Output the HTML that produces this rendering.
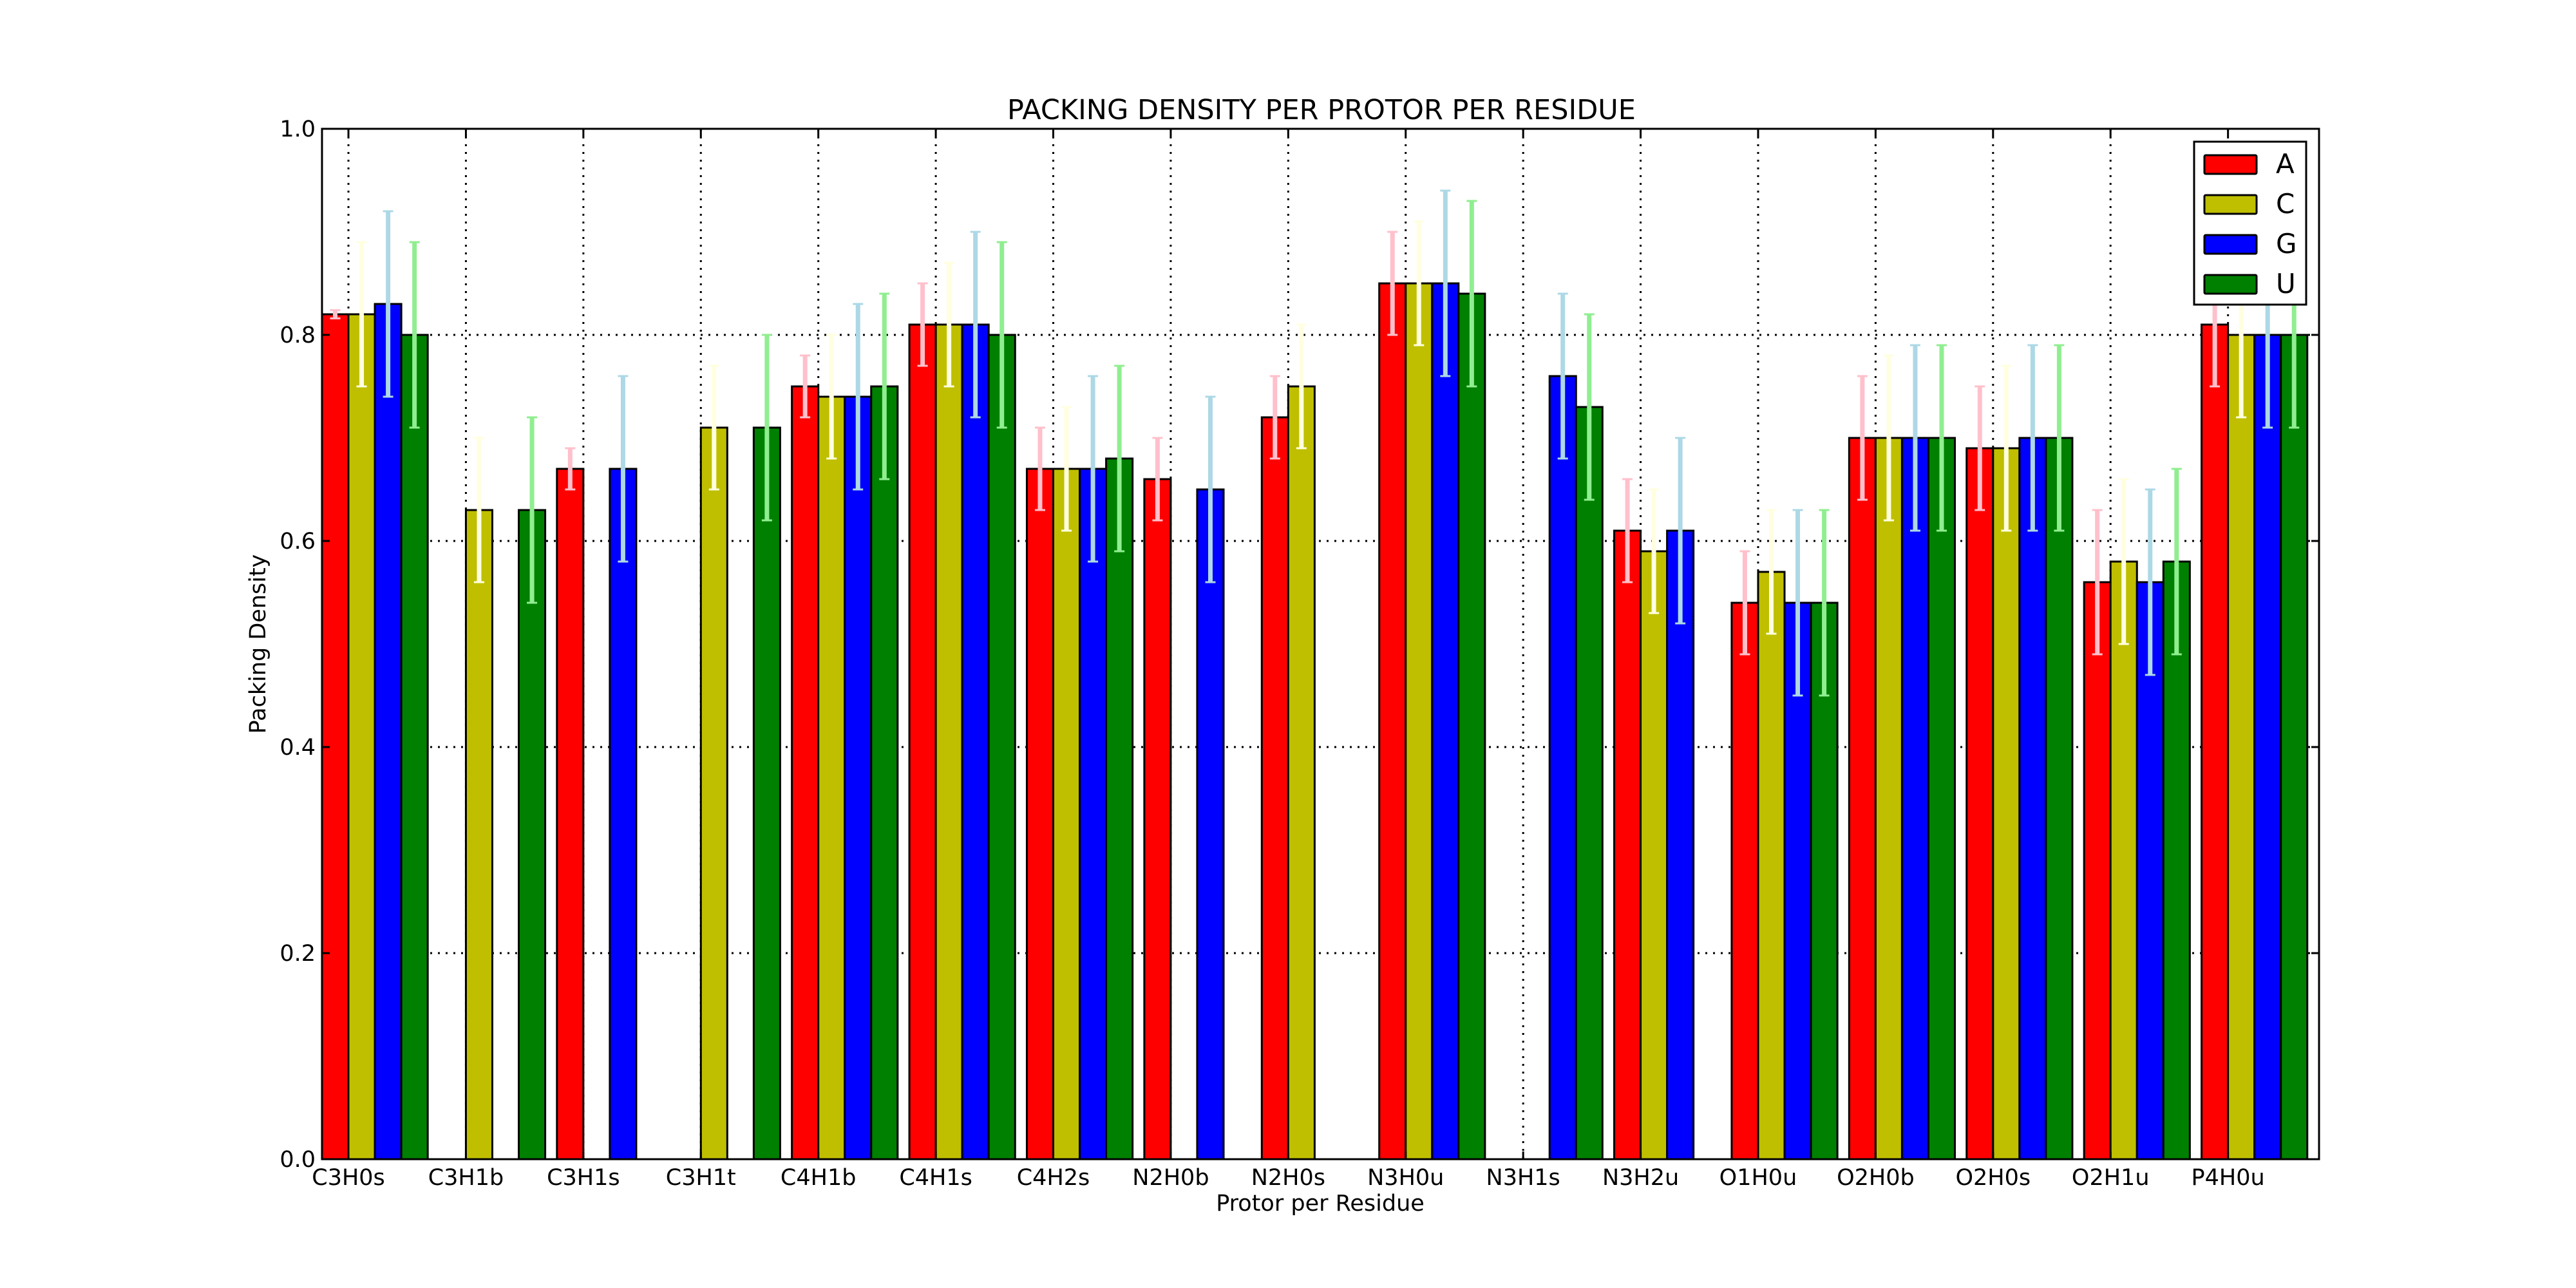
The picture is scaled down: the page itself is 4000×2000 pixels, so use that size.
<!DOCTYPE html>
<html><head><meta charset="utf-8"><style>
html,body{margin:0;padding:0;background:#fff;}
svg{display:block;font-family:"DejaVu Sans","Liberation Sans",sans-serif;}
</style></head><body>
<svg id="chart" width="4000" height="2000" viewBox="0 0 4000 2000" xmlns="http://www.w3.org/2000/svg">
<rect width="4000" height="2000" fill="#fff"/>
<text x="2052" y="185" font-size="43" text-anchor="middle">PACKING DENSITY PER PROTOR PER RESIDUE</text>
<text x="2050" y="1880" font-size="35" text-anchor="middle">Protor per Residue</text>
<text x="0" y="0" font-size="35" text-anchor="middle" transform="translate(412,1000) rotate(-90)">Packing Density</text>
<g id="grid"></g>
<g id="bars"></g>
<g id="errs"></g>
<rect x="500" y="200" width="3101" height="1600" fill="none" stroke="#000" stroke-width="3"/>
<g id="ticks"></g>
<g id="legend">
<rect x="3407" y="220" width="174" height="253" fill="#fff" stroke="#000" stroke-width="3"/>
</g>
</svg>
<script>
const categories=["C3H0s","C3H1b","C3H1s","C3H1t","C4H1b","C4H1s","C4H2s","N2H0b","N2H0s","N3H0u","N3H1s","N3H2u","O1H0u","O2H0b","O2H0s","O2H1u","P4H0u"];
const seriesNames=["A","C","G","U"];
const valuesA=[0.82,null,0.67,null,0.75,0.81,0.67,0.66,0.72,0.85,null,0.61,0.54,0.70,0.69,0.56,0.81];
const valuesC=[0.82,0.63,null,0.71,0.74,0.81,0.67,null,0.75,0.85,null,0.59,0.57,0.70,0.69,0.58,0.80];
const valuesG=[0.83,null,0.67,null,0.74,0.81,0.67,0.65,null,0.85,0.76,0.61,0.54,0.70,0.70,0.56,0.80];
const valuesU=[0.80,0.63,null,0.71,0.75,0.80,0.68,null,null,0.84,0.73,null,0.54,0.70,0.70,0.58,0.80];
const errA=[0.004,null,0.02,null,0.03,0.04,0.04,0.04,0.04,0.05,null,0.05,0.05,0.06,0.06,0.07,0.06];
const errC=[0.07,0.07,null,0.06,0.06,0.06,0.06,null,0.06,0.06,null,0.06,0.06,0.08,0.08,0.08,0.08];
const errG=[0.09,null,0.09,null,0.09,0.09,0.09,0.09,null,0.09,0.08,0.09,0.09,0.09,0.09,0.09,0.09];
const errU=[0.09,0.09,null,0.09,0.09,0.09,0.09,null,null,0.09,0.09,null,0.09,0.09,0.09,0.09,0.09];
const yTicks=[0.0,0.2,0.4,0.6,0.8,1.0];

const NS="http://www.w3.org/2000/svg";
const L=500,R=3601,T=200,B=1800;
const BW=0.225;
const x=v=>L+(v/categories.length)*(R-L);
const y=v=>B-v*(B-T);
const fills=["#ff0000","#bfbf00","#0000ff","#008000"];
const efills=["#ffc0cb","#ffffe0","#add8e6","#90ee90"];
const vals=[valuesA,valuesC,valuesG,valuesU];
const errs=[errA,errC,errG,errU];
function mk(tag,attrs,parent){const e=document.createElementNS(NS,tag);for(const k in attrs)e.setAttribute(k,attrs[k]);parent.appendChild(e);return e;}
const grid=document.getElementById('grid'),bars=document.getElementById('bars'),errsG=document.getElementById('errs'),ticks=document.getElementById('ticks'),legend=document.getElementById('legend');
yTicks.forEach(t=>{
  const gl=mk('line',{x1:L,x2:R,y1:y(t),y2:y(t),stroke:'#000','stroke-width':3,'stroke-dasharray':'3,9'},grid);
  
  
  mk('line',{x1:L,x2:L+12,y1:y(t),y2:y(t),stroke:'#000','stroke-width':3},ticks);
  mk('line',{x1:R-12,x2:R,y1:y(t),y2:y(t),stroke:'#000','stroke-width':3},ticks);
  const tl=mk('text',{x:490,y:y(t)+12,'font-size':35,'text-anchor':'end'},ticks);
  tl.textContent=t.toFixed(1);
  
  
});
categories.forEach((c,i)=>{
  const tx=x(i+BW);
  const gl=mk('line',{x1:tx,x2:tx,y1:T,y2:B,stroke:'#000','stroke-width':3,'stroke-dasharray':'3,9'},grid);
  
  
  mk('line',{x1:tx,x2:tx,y1:B-12,y2:B,stroke:'#000','stroke-width':3},ticks);
  mk('line',{x1:tx,x2:tx,y1:T,y2:T+12,stroke:'#000','stroke-width':3},ticks);
  const tl=mk('text',{x:tx,y:1840,'font-size':35,'text-anchor':'middle'},ticks);
  tl.textContent=c;
  
  
  for(let s=0;s<4;s++){
    const v=vals[s][i];if(v==null)continue;
    const x0=x(i+s*BW),x1=x(i+(s+1)*BW);
    const r=mk('rect',{x:x0,y:y(v),width:x1-x0,height:B-y(v),fill:fills[s],stroke:'#000','stroke-width':3},bars);
    
    
    const e=errs[s][i];if(e==null)continue;
    const cx=(x0+x1)/2;
    const el=mk('line',{x1:cx,x2:cx,y1:y(v+e),y2:y(v-e),stroke:efills[s],'stroke-width':7},errsG);
    
    
    mk('line',{x1:cx-8,x2:cx+8,y1:y(v+e),y2:y(v+e),stroke:efills[s],'stroke-width':3},errsG);
    mk('line',{x1:cx-8,x2:cx+8,y1:y(v-e),y2:y(v-e),stroke:efills[s],'stroke-width':3},errsG);
  }
});
seriesNames.forEach((n,s)=>{
  const yy=241+s*62;
  const p=mk('rect',{x:3423,y:yy,width:81,height:29,fill:fills[s],stroke:'#000','stroke-width':3,rx:2},legend);
  
  
  const t=mk('text',{x:3534,y:yy+28,'font-size':42},legend);
  t.textContent=n;
  
  
});
</script>
</body></html>
